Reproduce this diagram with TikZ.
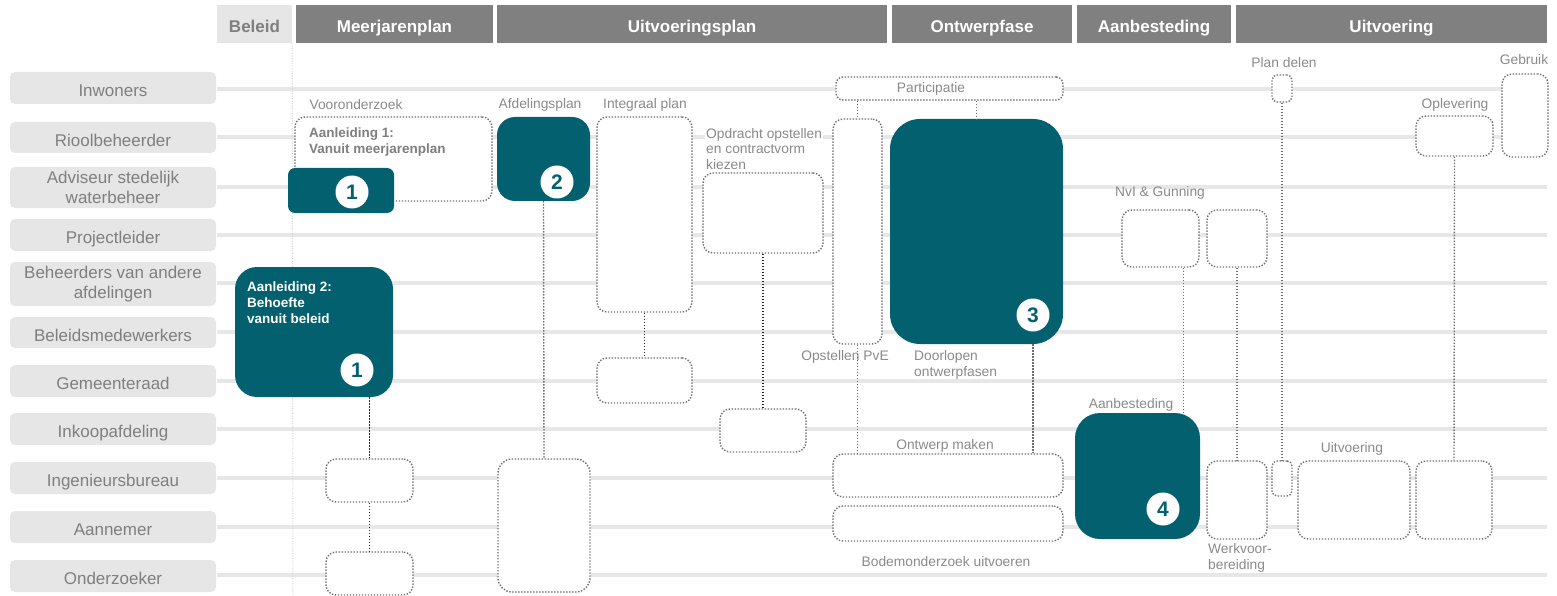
\documentclass[tikz,border=0pt]{standalone}
\usepackage{fontspec}
\setmainfont{Liberation Sans}
\definecolor{tealc}{HTML}{03616F}
\definecolor{hdrg}{HTML}{808080}
\definecolor{lightg}{HTML}{E6E6E6}
\definecolor{txtg}{HTML}{7F7F7F}
\definecolor{labg}{HTML}{8A8A8A}
\definecolor{dotg}{HTML}{6E6E6E}
\definecolor{lineg}{HTML}{E6E7E8}
\newcommand{\bx}[7]{\node[#6, minimum width={(#4-#2)*1pt}, minimum height={(#5-#3)*1pt}] (#1) at ({(#2+#4)/2},{(#3+#5)/2}) {#7};}
\begin{document}
\begin{tikzpicture}[x=1pt,y=-1pt,
  rowlab/.style={fill=lightg, rounded corners=5pt, inner sep=0pt, text=txtg, font=\fontsize{17}{19.5}\selectfont, align=center},
  rowone/.style={rowlab, text height=17.5pt, text depth=0pt},
  hdr/.style={fill=hdrg, inner sep=0pt, text=white, font=\fontsize{17}{20}\selectfont\bfseries, text height=18pt, text depth=0pt},
  dotbox/.style={draw=dotg, fill=white, line width=1.4pt, dash pattern=on 1.4pt off 1.6pt, rounded corners=10pt, inner sep=0pt},
  tealbox/.style={fill=tealc, inner sep=0pt},
  num/.style={circle, fill=white, text=tealc, minimum size=33pt, inner sep=0pt, font=\fontsize{21}{21}\selectfont\bfseries},
  lab/.style={text=labg, inner sep=0pt, font=\fontsize{13.8}{15.5}\selectfont},
  boxt/.style={inner sep=0pt, align=left, font=\fontsize{13.5}{16}\selectfont\bfseries},
  conn/.style={draw=dotg, line width=1.4pt, dash pattern=on 1.4pt off 1.6pt},
  connd/.style={conn, draw=black!85},
  hline/.style={draw=lineg, line width=4pt},
  sepl/.style={draw=black!18, line width=1pt, dash pattern=on 1pt off 1.5pt}]
\useasboundingbox (0,0) rectangle (1557,596);
% headers
\bx{beleid}{217}{5}{292}{43}{hdr, fill=lightg, text=txtg}{Beleid}
\bx{mjp}{296}{5}{493}{43}{hdr}{Meerjarenplan}
\bx{uvp}{497}{5}{887}{43}{hdr}{Uitvoeringsplan}
\bx{ontwf}{892}{5}{1072}{43}{hdr}{Ontwerpfase}
\bx{aanbf}{1077}{5}{1231}{43}{hdr}{Aanbesteding}
\bx{uitvf}{1236}{5}{1547}{43}{hdr}{Uitvoering}
% row labels
\bx{r1}{10}{72}{216}{104}{rowone}{Inwoners}
\bx{r2}{10}{122}{216}{153}{rowone}{Rioolbeheerder}
\bx{r3}{10}{167}{216}{208}{rowlab}{Adviseur stedelijk\\waterbeheer}
\bx{r4}{10}{219}{216}{251}{rowone}{Projectleider}
\bx{r5}{10}{262}{216}{306}{rowlab}{Beheerders van andere\\afdelingen}
\bx{r6}{10}{317}{216}{348}{rowone}{Beleidsmedewerkers}
\bx{r7}{10}{365}{216}{397}{rowone}{Gemeenteraad}
\bx{r8}{10}{413}{216}{445}{rowone}{Inkoopafdeling}
\bx{r9}{10}{462}{216}{494}{rowone}{Ingenieursbureau}
\bx{r10}{10}{511}{216}{543}{rowone}{Aannemer}
\bx{r11}{10}{560}{216}{592}{rowone}{Onderzoeker}
% swimlane lines
\foreach \r/\yy in {r1/89,r2/137,r3/187,r4/235,r5/283,r6/332,r7/381,r8/429,r9/478,r10/527,r11/575}{
  \coordinate (\r w) at (217,\yy);
  \draw[hline] (\r w) -- (\r w -| uitvf.east);
}
\coordinate (sepend) at (293,596);
\draw[sepl] (beleid.south east) -- (sepend);
% dotted boxes
\bx{voor}{295}{117}{492}{201}{dotbox}{}
\bx{integ}{597}{117}{692}{312}{dotbox}{}
\bx{opdr}{703}{173}{823}{253}{dotbox}{}
\bx{pve}{833}{119}{882}{344}{dotbox}{}
\bx{part}{836}{77}{1063}{100}{dotbox, rounded corners=7pt}{}
\bx{gem}{597}{358}{692}{403}{dotbox}{}
\bx{inkb}{720}{409}{806}{452}{dotbox}{}
\bx{ing1}{326}{459}{413}{502}{dotbox}{}
\bx{ond1}{326}{552}{413}{595}{dotbox}{}
\bx{big2}{498}{459}{590}{592}{dotbox, rounded corners=14pt}{}
\bx{ontw}{833}{454}{1063}{497}{dotbox}{}
\bx{bodem}{833}{506}{1063}{541}{dotbox}{}
\bx{nvi1}{1122}{210}{1199}{267}{dotbox}{}
\bx{nvi2}{1207}{210}{1267}{267}{dotbox}{}
\bx{wvb}{1207}{461}{1267}{539}{dotbox}{}
\bx{pd}{1272}{75}{1292}{102}{dotbox, rounded corners=5pt}{}
\bx{pds}{1272}{461}{1292}{496}{dotbox, rounded corners=5pt}{}
\bx{uitv}{1298}{461}{1410}{539}{dotbox}{}
\bx{opl}{1416}{116}{1493}{156}{dotbox}{}
\bx{opls}{1416}{461}{1492}{539}{dotbox}{}
\bx{gebr}{1502}{74}{1548}{157}{dotbox}{}
% teal boxes
\bx{t1}{288}{168}{394}{213}{tealbox, rounded corners=7pt}{}
\bx{t2}{497}{117}{590}{201}{tealbox, rounded corners=18pt}{}
\bx{aan2}{235}{267}{393}{397}{tealbox, rounded corners=22pt}{}
\bx{t3}{890}{119}{1063}{344}{tealbox, rounded corners=30pt}{}
\bx{t4}{1075}{413}{1200}{539}{tealbox, rounded corners=25pt}{}
\node[num] (c1a) at (352,192) {1};
\node[num] (c2) at (557,182) {2};
\node[num] (c1b) at (357,370) {1};
\node[num] (c3) at (1033,315) {3};
\node[num] (c4) at (1163,509) {4};
% box texts
\node[boxt, text=txtg, anchor=west] (voort) at (309,142) {Aanleiding 1:\\Vanuit meerjarenplan};
\node[boxt, text=white, anchor=west] (aan2t) at (247,303) {Aanleiding 2:\\Behoefte\\vanuit beleid};
% labels
\node[lab] (lvoor) at (356,105) {Vooronderzoek};
\node[lab] (lafd) at (540,105) {Afdelingsplan};
\node[lab] (linteg) at (645,105) {Integraal plan};
\node[lab, fill=white, align=left, anchor=west, inner sep=1pt] (lopdr) at (705,149) {Opdracht opstellen\\en contractvorm\\kiezen};
\node[lab] (lpart) at (931,89) {Participatie};
\node[lab] (lpve) at (845,357) {Opstellen PvE};
\node[lab, align=left, anchor=west] (ldoor) at (914,365) {Doorlopen\\ontwerpfasen};
\node[lab] (lontw) at (945,446) {Ontwerp maken};
\node[lab] (lbodem) at (946,562) {Bodemonderzoek uitvoeren};
\node[lab] (lnvi) at (1160,193) {NvI \& Gunning};
\node[lab] (laanb) at (1131,405) {Aanbesteding};
\node[lab] (lpd) at (1284,63) {Plan delen};
\node[lab] (lopl) at (1455,105) {Oplevering};
\node[lab] (lgebr) at (1524,60) {Gebruik};
\node[lab] (luitv) at (1352,449) {Uitvoering};
\node[lab, align=left, anchor=west] (lwvb) at (1208,558) {Werkvoor-\\bereiding};
% connectors
\draw[connd] (ing1.north |- aan2.south) -- (ing1.north);
\draw[connd] (ing1.south) -- (ond1.north);
\draw[conn] (t2.south) -- (big2.north);
\draw[connd] (integ.south) -- (gem.north);
\draw[connd] (opdr.south) -- (inkb.north);
\draw[conn] (pve.north |- part.south) -- (pve.north);
\draw[conn] (t3.north |- part.south) -- (t3.north);
\draw[conn] (pve.south) -- (pve.south |- ontw.north);
\draw[conn] (c3 |- t3.south) -- (c3 |- ontw.north);
\draw[conn] ([xshift=23pt]nvi1.south) -- ([xshift=23pt]nvi1.south |- t4.north);
\draw[conn] (nvi2.south) -- (wvb.north);
\draw[conn] (pd.south) -- (pds.north);
\draw[conn] (opl.south) -- (opls.north);
\end{tikzpicture}
\end{document}
